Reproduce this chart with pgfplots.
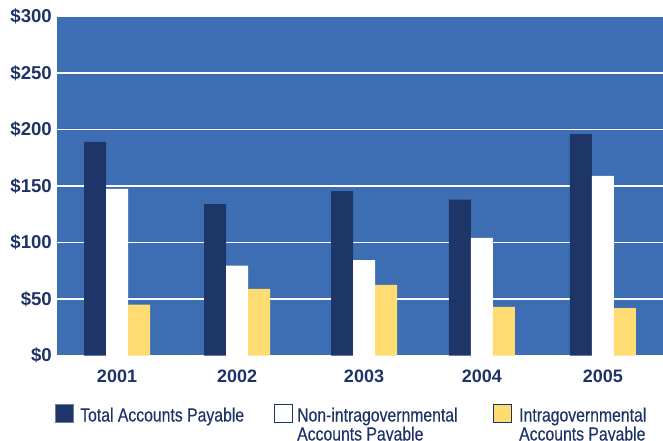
\documentclass[border=0pt]{standalone}
\usepackage{fontspec}
\setmainfont{Liberation Sans}
\newfontfamily\condfont{Liberation Sans}[FakeStretch=0.83,FakeBold=0.4]
\usepackage{pgfplots}
\pgfplotsset{compat=1.18}
\definecolor{bgblue}{HTML}{3D6EB4}
\definecolor{barnavy}{HTML}{1D3567}
\definecolor{baryellow}{HTML}{FFDC72}
\definecolor{txtnavy}{HTML}{1E3466}
\definecolor{legborder}{HTML}{6F7FA3}
\begin{document}
\begin{tikzpicture}
\path[use as bounding box] (-57pt,-84.5pt) rectangle (606pt,355.5pt);
\begin{axis}[
  at={(0pt,0pt)}, anchor=south west,
  scale only axis, width=606pt, height=339pt,
  xmin=-0.494, xmax=4.494, ymin=0, ymax=300,
  ybar=0pt, bar width=22pt,
  axis background/.style={fill=bgblue},
  axis line style={draw=none},
  ytick={0,50,100,150,200,250,300},
  yticklabels={\$0,\$50,\$100,\$150,\$200,\$250,\$300},
  ymajorgrids, major grid style={white, line width=1.3pt},
  major tick length=0pt,
  xtick=data,
  xticklabels={2001,2002,2003,2004,2005},
  tick label style={font=\fontsize{18}{18}\selectfont\bfseries, text=txtnavy},
  yticklabel style={anchor=east, inner sep=0pt, xshift=-5pt, font=\fontsize{18.6}{18.6}\selectfont\bfseries},
  xticklabel style={anchor=north, inner sep=0pt, yshift=-13.8pt},
]
\addplot[draw=none, fill=barnavy] coordinates {(0,189) (0.988,134) (2.033,145.5) (3.004,138) (4,196)};
\addplot[draw=none, fill=white] coordinates {(0,147.5) (0.988,79.5) (2.033,84.5) (3.004,104) (4,159)};
\addplot[draw=none, fill=baryellow] coordinates {(0,45) (0.988,59) (2.033,62.5) (3.004,43) (4,42)};
\end{axis}
\draw[legborder, fill=barnavy, line width=1.3pt] (-1.35pt,-49.15pt) rectangle (16.35pt,-66.85pt);
\draw[txtnavy, fill=white, line width=1.3pt] (217.65pt,-49.15pt) rectangle (235.35pt,-66.85pt);
\draw[txtnavy, fill=baryellow, line width=1.3pt] (436.65pt,-49.15pt) rectangle (454.35pt,-66.85pt);
\begin{scope}[every node/.style={anchor=base west, inner sep=0pt, text=txtnavy, font=\condfont\fontsize{19}{19}\selectfont}]
\node at (23pt,-66pt) {Total Accounts Payable};
\node at (240pt,-66pt) {Non-intragovernmental};
\node at (240pt,-85pt) {Accounts Payable};
\node at (462pt,-66pt) {Intragovernmental};
\node at (462pt,-85pt) {Accounts Payable};
\end{scope}
\end{tikzpicture}
\end{document}
